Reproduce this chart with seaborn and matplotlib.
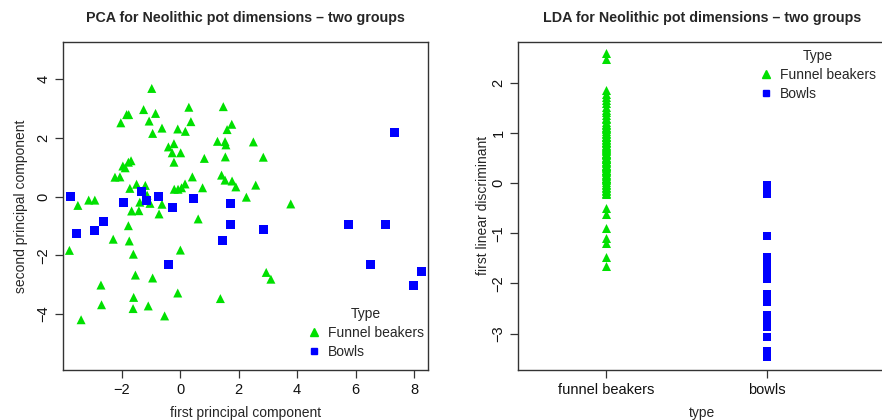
import numpy as np
import pandas as pd
import matplotlib
matplotlib.use("Agg")
import matplotlib.pyplot as plt
import seaborn as sns
from matplotlib.lines import Line2D

sns.set_theme(style="white")
plt.rcParams["font.family"] = ["Liberation Sans", "DejaVu Sans"]

# ---- data: PCA scores ----
fb_pc1 = [-0.98, 0.29, 1.47, -1.26, -0.85, -1.84, -1.77, -2.04, -1.07, 0.36,
          1.76, -0.63, -0.09, 0.17, 1.60, -0.95, 1.27, 1.53, 1.56, 2.50,
          -0.41, -0.22, -0.28, 0.01, 0.82, 1.54, 2.84, -0.22, -1.97, -1.89,
          -1.78, -1.69, -2.24, -2.07, 0.41, 1.41, 1.53, 1.77, 1.90, 0.76,
          2.58, -1.50, -1.20, -1.73, -0.21, -0.08, 0.04, 0.16, 2.26, -1.14,
          -3.14, -2.93, -3.51, -1.39, -1.04, -0.63, 3.78, -1.67, -1.42, -0.73,
          0.61, -1.78, -2.30, -1.75, -3.80, 0.00, -1.61, 2.94, 3.10, -1.54,
          -0.95, -2.72, -0.09, 1.37, -1.60, -2.70, -1.10, -1.62, -0.54, -3.40]
fb_pc2 = [3.68, 3.04, 3.06, 2.96, 2.83, 2.79, 2.79, 2.51, 2.57, 2.55,
          2.46, 2.33, 2.30, 2.22, 2.28, 2.15, 1.88, 1.87, 1.76, 1.86,
          1.69, 1.80, 1.49, 1.49, 1.30, 1.35, 1.34, 1.17, 1.04, 0.98,
          1.17, 1.22, 0.66, 0.67, 0.67, 0.73, 0.56, 0.53, 0.33, 0.30,
          0.39, 0.42, 0.38, 0.28, 0.25, 0.25, 0.30, 0.43, -0.02, 0.05,
          -0.12, -0.12, -0.30, -0.19, -0.23, -0.26, -0.25, -0.49, -0.48, -0.59,
          -0.76, -0.99, -1.45, -1.51, -1.83, -1.82, -1.96, -2.58, -2.81, -2.67,
          -2.77, -3.01, -3.28, -3.47, -3.43, -3.68, -3.72, -3.81, -4.06, -4.19]
bw_pc1 = [-3.77, -1.34, -0.76, -1.96, -1.17, -2.64, -2.95, -3.57, -0.28, 0.44,
          1.71, 1.71, 2.84, 1.43, -0.41, 7.33, 5.75, 7.02, 6.50, 8.25, 7.98]
bw_pc2 = [0.00, 0.16, 0.01, -0.20, -0.13, -0.86, -1.14, -1.25, -0.36, -0.06,
          -0.22, -0.94, -1.11, -1.49, -2.30, 2.19, -0.94, -0.94, -2.30, -2.54, -3.02]

# ---- data: LDA scores ----
fb_ld1 = [2.58, 2.48,
          1.85, 1.78, 1.72, 1.66, 1.60, 1.52, 1.45, 1.41, 1.36, 1.30, 1.27, 1.22,
          1.18, 1.15, 1.12, 1.10, 1.07, 1.03, 1.00, 0.97, 0.94, 0.92, 0.91, 0.88,
          0.85, 0.82, 0.81, 0.79, 0.76, 0.74, 0.71, 0.70, 0.68, 0.66, 0.63, 0.60,
          0.58, 0.57, 0.55, 0.52, 0.50, 0.48, 0.47, 0.44, 0.42, 0.39, 0.36, 0.34,
          0.33, 0.31, 0.29, 0.26, 0.25, 0.23, 0.21, 0.18, 0.15, 0.13, 0.10, 0.09,
          0.07, 0.05, 0.02, -0.01, -0.04, -0.07, -0.10, -0.13, -0.16, -0.20, -0.22,
          -0.50, -0.62, -0.90, -1.10, -1.20, -1.48, -1.66]
bw_ld1 = [-0.03, -0.05, -0.22, -1.06, -1.48, -1.52, -1.63, -1.70, -1.77, -1.85,
          -1.91, -2.22, -2.30, -2.38, -2.62, -2.70, -2.87, -3.07, -3.35, -3.40, -3.47]

type_labels = ["Funnel beakers", "Bowls"]
lda_categories = ["funnel beakers", "bowls"]
pca_xticks = [-2, 0, 2, 4, 6, 8]
pca_yticks = [-4, -2, 0, 2, 4]
lda_yticks = [-3, -2, -1, 0, 1, 2]

GREEN = "#00E000"
BLUE = "#0000FF"

pca = pd.DataFrame({
    "pc1": fb_pc1 + bw_pc1,
    "pc2": fb_pc2 + bw_pc2,
    "Type": [type_labels[0]] * len(fb_pc1) + [type_labels[1]] * len(bw_pc1),
})
lda = pd.DataFrame({
    "ld1": fb_ld1 + bw_ld1,
    "type": [lda_categories[0]] * len(fb_ld1) + [lda_categories[1]] * len(bw_ld1),
})

W, H = 882, 420
fig = plt.figure(figsize=(W / 100, H / 100), dpi=100)


def axpos(l, t, r, b):
    return [l / W, 1 - b / H, (r - l) / W, (b - t) / H]


ax1 = fig.add_axes(axpos(62.7, 41.7, 427.7, 370))
ax2 = fig.add_axes(axpos(518, 41.7, 886, 370))

pal = {type_labels[0]: GREEN, type_labels[1]: BLUE}
mk = {type_labels[0]: "^", type_labels[1]: "s"}

sns.scatterplot(data=pca, x="pc1", y="pc2", hue="Type", style="Type",
                palette=pal, markers=mk, s=42, linewidth=0, legend=False, ax=ax1)

sns.stripplot(data=lda[lda["type"] == lda_categories[0]], x="type", y="ld1",
              order=lda_categories, color=GREEN, marker="^", size=6.5,
              linewidth=0, jitter=False, ax=ax2)
sns.stripplot(data=lda[lda["type"] == lda_categories[1]], x="type", y="ld1",
              order=lda_categories, color=BLUE, marker="s", size=5.8,
              linewidth=0, jitter=False, ax=ax2)

ax1.set_xlim(-4.03, 8.47)
ax1.set_ylim(-5.90, 5.27)
ax1.set_xticks(pca_xticks)
ax1.set_yticks(pca_yticks)
ax2.set_xlim(-0.547, 1.739)
ax2.set_ylim(-3.725, 2.815)
ax2.set_yticks(lda_yticks)
ax2.set_xticks([0, 1])
ax2.set_xticklabels(lda_categories)

for ax in (ax1, ax2):
    ax.grid(False)
    for sp in ax.spines.values():
        sp.set_visible(True)
        sp.set_color("#333333")
        sp.set_linewidth(1.0)
    ax.tick_params(axis="both", direction="out", length=6, width=0.9,
                   color="#333333", labelsize=10.5, labelcolor="#111111", pad=3,
                   bottom=True, left=True)
    for lab in ax.get_yticklabels():
        lab.set_rotation(90)
        lab.set_va("center")

ax1.set_title("PCA for Neolithic pot dimensions \u2013 two groups",
              fontsize=10.3, fontweight="bold", pad=14)
ax2.set_title("LDA for Neolithic pot dimensions \u2013 two groups",
              fontsize=10.3, fontweight="bold", pad=14)
ax1.set_xlabel("first principal component", fontsize=10, labelpad=7)
ax1.set_ylabel("second principal component", fontsize=10, labelpad=6)
ax2.set_xlabel("type", fontsize=10, labelpad=7)
ax2.set_ylabel("first linear discriminant", fontsize=10, labelpad=1)

handles = [Line2D([], [], marker="^", color=GREEN, linestyle="none", markersize=6),
           Line2D([], [], marker="s", color=BLUE, linestyle="none", markersize=5)]

leg1 = ax1.legend(handles, type_labels, title="Type", frameon=False,
                  loc="upper left", bbox_to_anchor=(0.655, 0.21),
                  fontsize=10, title_fontsize=10, handlelength=1.0,
                  handletextpad=0.5, labelspacing=0.38, borderaxespad=0)
leg2 = ax2.legend(handles, type_labels, title="Type", frameon=False,
                  loc="upper left", bbox_to_anchor=(0.641, 0.995),
                  fontsize=10, title_fontsize=10, handlelength=1.0,
                  handletextpad=0.5, labelspacing=0.35, borderaxespad=0)

fig.savefig("out.png", dpi=100)
